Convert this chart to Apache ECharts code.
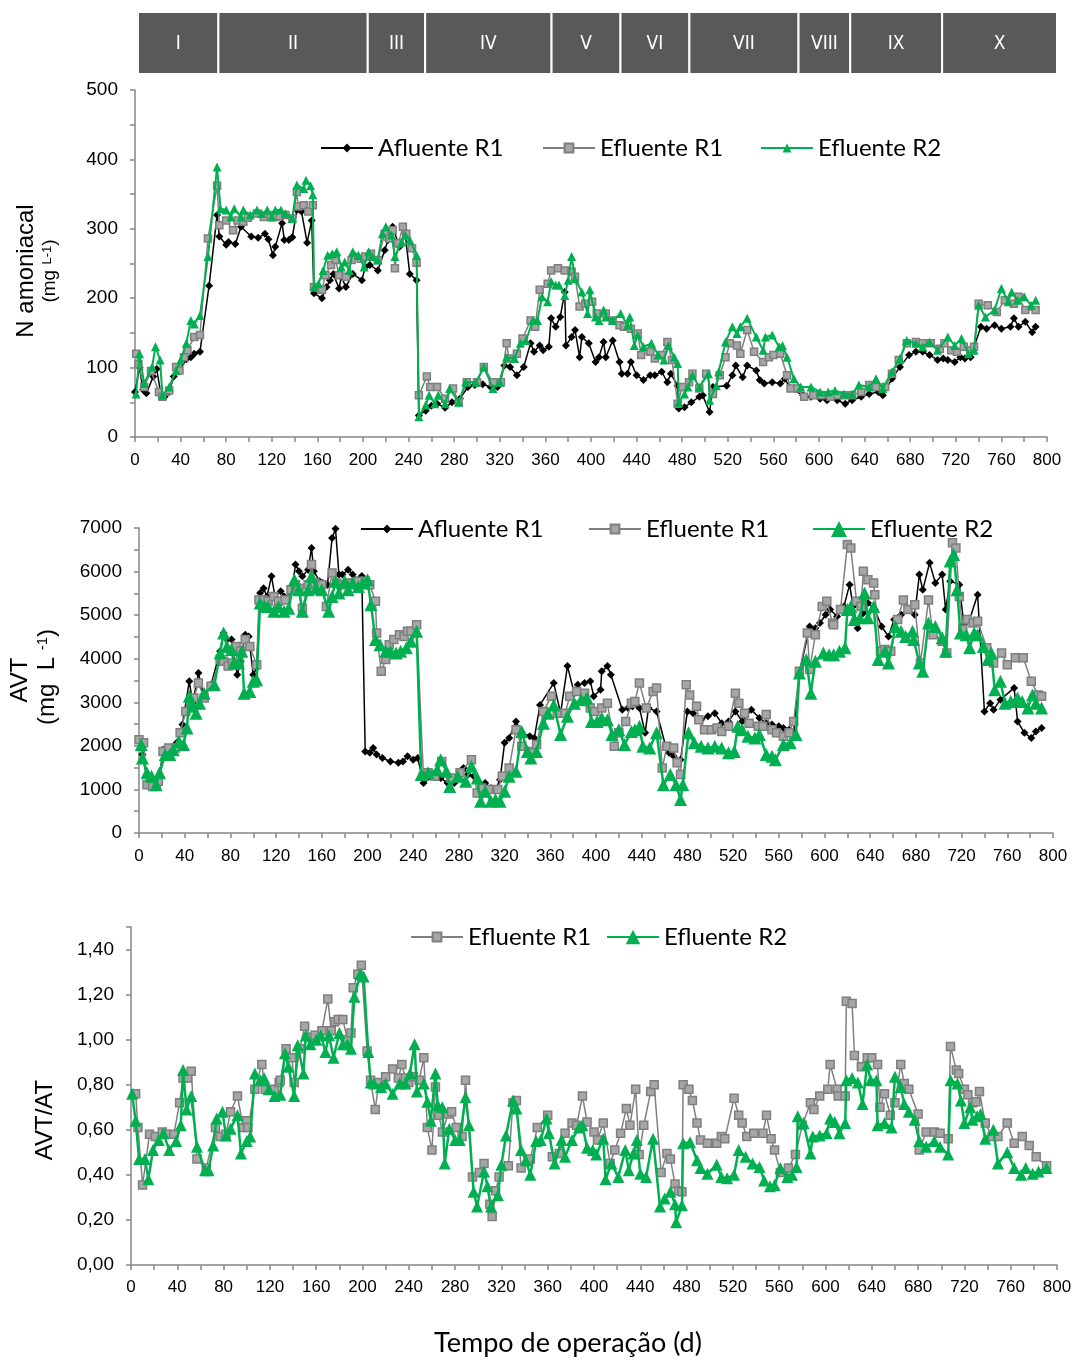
<!DOCTYPE html>
<html><head><meta charset="utf-8">
<script src="https://cdn.jsdelivr.net/npm/echarts@6/dist/echarts.min.js"></script>
<style>html,body{margin:0;padding:0;background:#fff}#c{width:1075px;height:1360px}</style>
</head><body><div id="c"></div>
<script>
// ---------- DATA ----------
const phaseBounds = [0,70,200,250,360,420,480,575,620,700,800];
const phaseLabels = ['I','II','III','IV','V','VI','VII','VIII','IX','X'];
const seriesNames = ['Afluente R1','Efluente R1','Efluente R2'];

// Panel 1: N amoniacal (mg/L), [day, value]
const nh4Afluente = [[0,65],[4,100],[7,68],[10,63],[16,87],[19,98],[23,59],[26,58],[30,65],[34,87],[39,96],[45,112],[49,115],[52,120],[57,123],[65,218],[72,320],[74,289],[80,277],[82,281],[88,278],[93,303],[102,289],[108,287],[114,293],[117,285],[121,262],[123,274],[129,308],[131,284],[135,284],[138,288],[142,327],[146,325],[151,280],[155,312],[157,207],[164,200],[168,216],[171,226],[174,235],[179,214],[181,231],[185,216],[191,235],[199,226],[202,245],[206,248],[213,240],[219,269],[222,284],[226,303],[232,274],[237,293],[241,235],[247,226],[249,31],[255,38],[260,45],[265,48],[272,42],[278,50],[285,55],[292,72],[298,75],[305,76],[312,72],[318,72],[324,103],[329,101],[335,89],[341,101],[347,135],[350,123],[355,132],[358,125],[363,130],[365,171],[369,159],[373,173],[377,209],[378,132],[383,144],[386,154],[390,115],[392,144],[398,135],[404,108],[407,115],[411,137],[413,115],[419,139],[425,108],[427,91],[432,91],[435,108],[440,89],[446,82],[452,89],[456,89],[462,94],[467,79],[470,91],[476,74],[477,41],[482,43],[488,50],[495,58],[498,60],[504,36],[507,72],[519,74],[524,89],[527,103],[533,86],[537,103],[545,96],[548,82],[552,77],[559,79],[566,77],[570,84],[575,70],[586,60],[593,58],[601,55],[607,53],[616,53],[623,48],[629,53],[637,58],[644,62],[652,65],[656,60],[664,84],[671,101],[679,118],[685,123],[691,123],[697,118],[704,111],[709,113],[713,111],[719,108],[724,115],[728,113],[733,115],[742,159],[747,156],[754,161],[760,156],[768,159],[771,171],[775,159],[781,166],[787,151],[790,159]];
const nh4EfluenteR1 = [[1,120],[3,105],[8,72],[14,95],[21,65],[24,58],[30,67],[36,101],[39,96],[43,115],[46,125],[52,144],[57,147],[64,286],[72,362],[74,305],[80,312],[86,298],[90,312],[95,310],[99,316],[107,322],[113,317],[119,320],[123,317],[127,318],[132,320],[138,315],[142,353],[143,332],[148,334],[152,325],[156,334],[157,216],[164,212],[167,233],[172,248],[176,255],[179,233],[185,231],[190,255],[198,257],[202,260],[207,264],[213,255],[219,293],[223,286],[226,298],[228,243],[231,279],[235,303],[238,293],[243,272],[247,251],[249,60],[256,87],[259,72],[265,72],[272,55],[279,70],[284,50],[291,79],[300,79],[306,101],[314,79],[321,79],[326,135],[328,113],[335,120],[340,142],[347,168],[351,159],[355,212],[362,221],[365,240],[371,243],[377,240],[383,238],[386,231],[390,188],[395,192],[401,195],[405,178],[413,178],[419,168],[425,161],[429,159],[435,156],[441,149],[444,118],[452,123],[456,113],[462,118],[467,137],[471,111],[476,48],[480,72],[486,79],[489,91],[495,70],[501,91],[507,62],[513,89],[518,115],[522,135],[528,132],[531,120],[537,154],[543,123],[551,108],[556,115],[560,118],[566,120],[572,89],[575,70],[581,70],[587,58],[595,60],[602,60],[610,58],[616,60],[622,60],[629,60],[637,65],[644,75],[650,72],[658,72],[664,91],[670,111],[677,135],[685,137],[691,135],[698,135],[706,127],[710,135],[716,125],[721,123],[727,130],[733,125],[736,130],[740,192],[748,190],[756,180],[763,197],[771,192],[775,202],[781,183],[790,183]];
const nh4EfluenteR2 = [[1,62],[4,120],[8,77],[15,101],[18,130],[22,111],[24,60],[30,72],[36,96],[40,111],[45,135],[49,168],[52,163],[57,175],[64,260],[72,389],[75,329],[80,327],[84,317],[87,329],[93,317],[95,327],[101,320],[107,327],[111,322],[116,327],[120,317],[123,327],[128,327],[132,322],[138,315],[142,363],[148,358],[150,370],[154,362],[156,349],[157,216],[161,221],[165,240],[169,262],[173,264],[177,267],[181,245],[184,252],[188,240],[191,267],[196,262],[201,245],[205,267],[208,260],[213,255],[217,293],[220,303],[225,291],[228,260],[234,281],[237,291],[241,284],[247,262],[249,29],[255,46],[258,60],[263,48],[266,60],[272,48],[276,70],[284,50],[290,79],[299,79],[306,101],[314,70],[320,79],[326,115],[333,113],[338,135],[343,139],[349,168],[353,168],[357,202],[362,195],[365,224],[369,219],[372,219],[377,204],[380,226],[383,260],[386,228],[392,209],[397,178],[399,212],[404,173],[407,168],[411,183],[413,173],[419,168],[426,178],[432,161],[434,173],[438,132],[441,147],[446,130],[453,135],[459,118],[464,111],[468,132],[473,115],[476,106],[477,50],[482,62],[485,72],[489,89],[495,72],[503,91],[504,53],[510,74],[512,94],[518,137],[524,159],[528,149],[531,159],[537,171],[545,144],[551,125],[553,144],[559,147],[565,130],[568,132],[572,115],[578,84],[584,72],[593,72],[601,65],[608,65],[614,67],[622,62],[629,62],[635,75],[644,72],[650,84],[656,70],[664,94],[671,113],[677,139],[685,135],[691,130],[697,137],[704,125],[713,144],[719,132],[725,142],[731,120],[736,125],[740,190],[746,173],[754,183],[760,214],[766,195],[769,209],[774,197],[780,202],[786,190],[790,197]];

// Panel 2: AVT (mg/L)
const avtAfluente = [[0,2140],[3,1800],[8,1110],[12,1150],[17,1110],[21,1910],[24,1950],[29,1950],[33,2070],[38,2490],[44,3480],[47,2980],[52,3670],[57,3100],[63,3400],[71,4170],[74,4590],[77,4440],[81,4440],[86,3630],[89,3940],[93,4550],[96,4510],[100,3630],[103,3790],[106,5510],[109,5620],[112,5430],[116,5890],[119,5430],[124,5550],[127,5430],[130,5390],[134,5620],[137,6160],[140,6010],[143,5890],[148,6040],[151,6540],[153,6010],[158,5780],[161,5740],[165,5700],[169,6770],[172,6980],[175,5930],[178,5930],[183,6040],[187,5930],[192,5810],[195,5900],[198,1870],[202,1840],[205,1950],[208,1800],[213,1720],[220,1640],[227,1610],[231,1640],[235,1760],[240,1680],[244,1720],[249,1150],[258,1300],[264,1260],[270,1150],[276,1150],[284,1490],[288,1340],[293,1300],[299,1110],[303,1150],[308,1030],[312,1000],[316,1220],[320,2070],[324,2180],[330,2560],[335,2300],[342,2220],[346,2180],[351,2940],[363,3440],[369,2750],[375,3830],[381,3210],[384,3400],[390,3440],[395,3480],[398,3140],[404,3290],[405,3710],[410,3830],[413,3630],[423,2830],[428,2870],[432,2910],[438,2870],[443,2300],[446,2870],[453,2790],[461,1990],[464,1840],[468,1760],[474,1680],[480,2790],[485,2750],[492,2600],[498,2680],[504,2750],[510,2520],[516,2560],[522,2790],[528,2560],[536,2830],[543,2640],[549,2520],[554,2490],[560,2450],[564,2410],[569,2370],[573,2300],[578,3670],[587,4740],[592,4700],[596,4820],[601,5010],[605,5130],[611,4970],[617,5200],[622,5700],[625,5200],[629,4700],[634,5050],[638,5280],[644,5130],[650,4740],[656,4510],[661,4900],[667,5010],[673,5160],[679,5010],[683,5930],[686,5580],[692,6200],[697,5740],[703,5930],[706,5130],[710,5780],[718,5700],[722,4780],[727,4900],[734,5470],[740,2790],[745,2980],[748,2830],[754,3060],[766,3330],[769,2560],[775,2300],[781,2180],[785,2330],[790,2410]];
const avtEfluenteR1 = [[0,2140],[4,2070],[7,1110],[12,1070],[17,1190],[21,1870],[26,1950],[32,1950],[36,2300],[41,2790],[45,2980],[48,3100],[52,3440],[57,3100],[63,3370],[71,3980],[74,3940],[78,3830],[82,3900],[85,4280],[89,4170],[93,4440],[97,4280],[103,3860],[105,5350],[109,5350],[113,5320],[118,5430],[122,5320],[128,5350],[133,5580],[137,5700],[140,5620],[143,5160],[148,5700],[151,6160],[154,5740],[160,5700],[164,5200],[169,5970],[173,5740],[178,5700],[183,5740],[187,5740],[192,5780],[198,5780],[202,5700],[207,5320],[208,4590],[212,3710],[216,3980],[219,4320],[223,4440],[228,4550],[232,4510],[235,4630],[238,4630],[243,4780],[249,1300],[253,1380],[259,1300],[265,1640],[273,1260],[281,1380],[291,1680],[296,920],[300,1030],[306,1000],[314,1000],[318,1300],[324,1490],[330,2370],[335,1990],[341,1870],[343,1840],[348,2030],[354,2790],[361,3140],[366,2750],[373,2750],[377,3140],[383,3250],[390,3210],[395,2870],[399,2790],[405,2870],[410,2980],[416,1990],[420,2300],[426,2560],[431,2980],[434,3020],[438,3440],[444,2870],[450,3250],[453,3330],[458,1490],[462,1990],[468,1950],[471,1610],[474,1340],[479,3400],[482,3170],[488,2910],[490,2600],[495,2370],[501,2370],[506,2410],[510,2330],[516,2450],[522,3210],[525,2980],[530,2750],[534,2520],[542,2450],[546,2450],[549,2720],[554,2370],[558,2300],[564,2220],[569,2300],[573,2560],[578,3710],[585,4590],[587,3750],[592,4550],[598,5200],[602,5320],[607,4820],[608,4780],[614,5130],[620,6620],[623,6540],[628,5320],[632,5200],[634,6010],[638,5810],[643,5740],[644,5470],[649,4170],[653,4210],[658,4170],[664,4900],[669,5350],[673,5130],[679,5240],[684,3900],[691,5350],[695,4550],[703,4400],[707,4130],[712,6660],[715,6540],[718,5430],[721,4670],[725,4900],[730,4820],[734,4860],[742,4250],[748,3900],[755,4130],[760,3860],[767,4020],[774,4020],[781,3480],[787,3170],[790,3140]];
const avtEfluenteR2 = [[2,2030],[3,1720],[7,1380],[11,1300],[15,1110],[18,1380],[23,1800],[27,1800],[30,1910],[35,2100],[39,2030],[42,2410],[44,3140],[47,2910],[50,2750],[53,2980],[57,3210],[66,3400],[71,4130],[74,4590],[77,4280],[81,4210],[83,3900],[87,3900],[90,4170],[92,3210],[97,3250],[100,3480],[103,3520],[106,5280],[110,5200],[113,5200],[118,5090],[122,5200],[127,5090],[131,5160],[136,5810],[140,5580],[143,5090],[148,5580],[151,5890],[155,5620],[160,5580],[166,5090],[169,5430],[172,5780],[175,5510],[180,5780],[183,5580],[187,5740],[192,5660],[196,5740],[200,5810],[203,5240],[207,4440],[211,4320],[216,4170],[220,4170],[225,4130],[229,4170],[234,4250],[238,4400],[243,4630],[247,1340],[253,1380],[261,1450],[264,1680],[269,1420],[272,1070],[279,1300],[286,1190],[291,1530],[296,1260],[299,730],[303,960],[308,730],[312,770],[316,730],[320,960],[324,1300],[330,1420],[335,2330],[340,1870],[343,1720],[348,1870],[354,2520],[358,2750],[363,2940],[369,2260],[375,2680],[381,2980],[387,3060],[392,3100],[396,2560],[401,2560],[405,2640],[410,2600],[414,2260],[420,2370],[425,2030],[431,2330],[434,2370],[438,2450],[441,1990],[447,1950],[453,2300],[459,1110],[465,1340],[470,1110],[474,770],[476,1110],[481,2300],[486,2070],[492,1990],[498,1950],[504,1990],[510,1950],[516,1840],[521,1870],[524,2450],[528,2370],[533,2220],[539,2180],[543,2260],[549,1800],[554,1760],[557,1680],[564,2030],[570,2070],[575,2260],[578,3670],[584,3980],[588,3210],[592,3940],[599,4130],[604,4090],[608,4090],[613,4170],[618,4250],[620,5130],[623,5200],[626,4900],[631,4940],[635,5510],[638,4940],[643,5200],[647,3980],[653,4170],[656,3900],[662,4740],[667,4630],[671,4510],[677,4630],[678,4440],[683,3900],[686,3710],[691,4820],[697,4740],[703,4480],[706,4170],[710,6240],[713,6390],[716,5580],[719,4590],[724,4550],[727,4250],[731,4590],[734,4550],[739,4280],[743,3980],[746,4130],[749,3290],[754,3480],[758,2980],[763,3020],[769,3100],[773,3020],[778,2870],[782,3170],[785,2980],[790,2870]];

// Panel 3: AVT/AT
const ratioEfluenteR1 = [[4,0.76],[6,0.61],[10,0.355],[16,0.58],[21,0.57],[27,0.59],[30,0.58],[37,0.58],[42,0.72],[45,0.83],[49,0.83],[52,0.86],[57,0.47],[65,0.43],[73,0.61],[77,0.57],[82,0.58],[86,0.68],[92,0.75],[97,0.61],[100,0.64],[101,0.61],[107,0.78],[113,0.89],[116,0.78],[124,0.78],[128,0.81],[129,0.82],[134,0.96],[139,0.92],[141,0.81],[146,0.96],[150,1.06],[156,1.01],[159,1.02],[165,1.04],[170,1.18],[173,1.04],[176,1.08],[179,1.09],[183,1.09],[187,1.0],[190,1.03],[192,1.23],[196,1.29],[199,1.33],[204,0.95],[207,0.82],[211,0.69],[214,0.81],[220,0.835],[226,0.87],[231,0.83],[234,0.89],[237,0.83],[240,0.81],[244,0.835],[249,0.82],[253,0.92],[256,0.61],[260,0.51],[263,0.79],[266,0.665],[269,0.59],[274,0.67],[277,0.68],[281,0.61],[286,0.57],[289,0.82],[295,0.39],[301,0.41],[305,0.45],[310,0.27],[312,0.215],[315,0.33],[318,0.39],[326,0.44],[330,0.72],[333,0.73],[337,0.43],[345,0.47],[351,0.61],[360,0.665],[364,0.48],[370,0.495],[375,0.585],[381,0.63],[385,0.62],[390,0.75],[394,0.635],[400,0.59],[403,0.555],[408,0.63],[414,0.45],[418,0.51],[423,0.585],[428,0.695],[431,0.62],[436,0.78],[439,0.49],[443,0.62],[449,0.77],[452,0.80],[458,0.41],[463,0.495],[466,0.47],[470,0.36],[473,0.33],[476,0.325],[477,0.80],[482,0.78],[485,0.73],[489,0.63],[492,0.555],[498,0.54],[506,0.54],[510,0.57],[513,0.56],[521,0.74],[525,0.665],[528,0.63],[532,0.57],[538,0.585],[546,0.585],[549,0.665],[553,0.56],[556,0.51],[561,0.41],[568,0.43],[574,0.49],[580,0.62],[587,0.72],[590,0.69],[595,0.75],[602,0.78],[604,0.89],[610,0.78],[611,0.75],[617,0.75],[618,1.17],[623,1.16],[625,0.93],[631,0.88],[636,0.92],[640,0.92],[645,0.89],[647,0.70],[651,0.76],[656,0.665],[660,0.72],[665,0.89],[668,0.805],[672,0.78],[680,0.67],[681,0.51],[687,0.59],[694,0.59],[699,0.585],[706,0.56],[708,0.97],[713,0.865],[715,0.85],[720,0.78],[723,0.755],[727,0.72],[730,0.725],[733,0.77],[738,0.63],[744,0.57],[749,0.57],[757,0.63],[763,0.54],[770,0.57],[776,0.53],[782,0.48],[791,0.44]];
const ratioEfluenteR2 = [[1,0.76],[4,0.64],[7,0.47],[12,0.47],[15,0.38],[19,0.51],[24,0.555],[28,0.585],[33,0.51],[39,0.55],[43,0.62],[45,0.865],[48,0.69],[52,0.75],[57,0.525],[64,0.42],[67,0.42],[71,0.53],[74,0.65],[79,0.68],[82,0.575],[86,0.605],[92,0.665],[95,0.495],[100,0.55],[103,0.57],[107,0.85],[112,0.82],[115,0.83],[119,0.78],[124,0.75],[129,0.755],[133,0.94],[136,0.88],[141,0.75],[144,0.975],[149,0.85],[151,1.02],[155,0.98],[160,1.0],[164,1.02],[168,0.945],[171,1.02],[175,0.92],[180,1.03],[183,0.98],[187,0.98],[190,0.96],[193,1.19],[198,1.29],[201,1.28],[205,0.945],[207,0.81],[210,0.805],[216,0.79],[220,0.805],[226,0.76],[232,0.805],[237,0.805],[241,0.85],[245,0.98],[247,0.77],[253,0.805],[256,0.725],[259,0.64],[263,0.85],[265,0.71],[269,0.70],[271,0.45],[275,0.605],[280,0.555],[284,0.555],[289,0.745],[292,0.62],[296,0.325],[299,0.26],[305,0.415],[308,0.35],[311,0.26],[317,0.31],[320,0.445],[324,0.575],[330,0.73],[333,0.695],[337,0.51],[341,0.465],[345,0.40],[350,0.55],[354,0.555],[359,0.65],[361,0.585],[366,0.45],[372,0.555],[375,0.48],[381,0.555],[387,0.61],[390,0.62],[394,0.52],[399,0.51],[402,0.49],[408,0.56],[410,0.38],[415,0.45],[421,0.39],[427,0.51],[430,0.42],[434,0.495],[437,0.555],[440,0.405],[445,0.39],[451,0.56],[457,0.26],[461,0.295],[466,0.325],[470,0.27],[471,0.19],[476,0.265],[477,0.54],[483,0.545],[489,0.465],[492,0.43],[498,0.405],[506,0.445],[510,0.39],[515,0.385],[521,0.40],[525,0.51],[531,0.48],[537,0.45],[543,0.435],[547,0.375],[552,0.35],[556,0.355],[561,0.43],[567,0.39],[571,0.40],[575,0.435],[576,0.66],[581,0.63],[587,0.495],[589,0.57],[595,0.575],[601,0.585],[604,0.65],[608,0.635],[612,0.585],[617,0.63],[618,0.82],[623,0.83],[628,0.81],[632,0.715],[636,0.89],[639,0.82],[644,0.82],[645,0.62],[651,0.63],[657,0.61],[660,0.835],[665,0.79],[668,0.715],[672,0.68],[677,0.645],[681,0.55],[687,0.525],[694,0.55],[699,0.525],[706,0.49],[708,0.82],[714,0.805],[717,0.73],[720,0.63],[725,0.70],[727,0.645],[731,0.66],[734,0.67],[738,0.56],[745,0.60],[749,0.45],[757,0.50],[763,0.43],[769,0.40],[773,0.43],[779,0.405],[784,0.415],[791,0.43]];

// ---------- CHART ----------
const AX = '#868686';
const TXT = '#000';
const TICKFONT = 'Liberation Sans';
const LEGFONT = 'Lato';

function xAxis(gi, margin){
  return {type:'value', gridIndex:gi, min:0, max:800, interval:40,
    axisLine:{show:true, onZero:false, lineStyle:{color:AX, width:1.5}},
    axisTick:{show:true, length:5, lineStyle:{color:AX, width:1.5}},
    minorTick:{show:true, splitNumber:2, length:5, lineStyle:{color:AX, width:1.5}},
    splitLine:{show:false}, minorSplitLine:{show:false},
    axisLabel:{margin:margin, fontSize:17, fontFamily:TICKFONT, color:TXT}};
}
function yAxis(gi, max, interval, minor, fmt){
  return {type:'value', gridIndex:gi, min:0, max:max, interval:interval,
    axisLine:{show:true, lineStyle:{color:AX, width:1.5}},
    axisTick:{show:true, length:5, lineStyle:{color:AX, width:1.5}},
    minorTick:{show:minor, splitNumber:2, length:5, lineStyle:{color:AX, width:1.5}},
    splitLine:{show:false}, minorSplitLine:{show:false},
    axisLabel:{margin:17, fontSize:19, fontFamily:TICKFONT, color:TXT, formatter:fmt}};
}

function blackSeries(name, gi, data){
  return {name:name, type:'line', xAxisIndex:gi, yAxisIndex:gi, data:data, symbol:'diamond', symbolSize:8,
    showAllSymbol:true, lineStyle:{color:'#000', width:1.5}, itemStyle:{color:'#000'}, z:2};
}
function graySeries(name, gi, data, size){
  return {name:name, type:'line', xAxisIndex:gi, yAxisIndex:gi, data:data, symbol:'rect', symbolSize:size,
    showAllSymbol:true, lineStyle:{color:'#7f7f7f', width:1.5}, itemStyle:{color:'#a6a6a6', borderColor:'#7f7f7f', borderWidth:1.5}, z:3};
}
function greenSeries(name, gi, data, size, lw){
  return {name:name, type:'line', xAxisIndex:gi, yAxisIndex:gi, data:data, symbol:'triangle', symbolSize:size,
    showAllSymbol:true, lineStyle:{color:'#00b050', width:lw}, itemStyle:{color:'#00b050'}, z:4};
}
function legend(name, left, cy, ih){
  return {data:[name], left:left, top:cy-13, padding:0, itemWidth:52, itemHeight:ih, itemGap:0,
    formatter:(n)=>n.split('|')[0], selectedMode:false,
    textStyle:{fontFamily:LEGFONT, fontSize:24, color:TXT}};
}

const phases = phaseBounds.slice(0,-1).map((s,i)=>[s, phaseBounds[i+1], i]);

const option = {
  animation:false,
  backgroundColor:'#fff',
  grid:[
    {left:138, right:18, top:12, height:62},
    {left:135, right:28, top:90, height:347},
    {left:139, right:22, top:528, height:305},
    {left:131, right:18, top:927, height:338}
  ],
  xAxis:[
    {type:'value', gridIndex:0, min:0, max:800, show:false},
    xAxis(1, 15), xAxis(2, 15), xAxis(3, 14)
  ],
  yAxis:[
    {type:'value', gridIndex:0, min:0, max:1, show:false},
    yAxis(1, 500, 100, true, v=>String(v)),
    yAxis(2, 7000, 1000, true, v=>String(v)),
    yAxis(3, 1.5, 0.2, false, v=> v>1.45 ? '' : v.toFixed(2).replace('.', ','))
  ],
  legend:[
    legend(seriesNames[0]+'|1', 320, 149, 11),
    legend(seriesNames[1]+'|1', 542, 149, 11),
    legend(seriesNames[2]+'|1', 760, 149, 11),
    legend(seriesNames[0]+'|2', 360, 530, 11),
    legend(seriesNames[1]+'|2', 588, 530, 11),
    legend(seriesNames[2]+'|2', 812, 530, 20),
    legend(seriesNames[1]+'|3', 410, 938, 11),
    legend(seriesNames[2]+'|3', 606, 938, 18)
  ],
  graphic:[
    {type:'text', x:26, y:271, rotation:Math.PI/2, style:{text:'N amoniacal', fontSize:24, fontFamily:'Liberation Sans', fill:TXT, align:'center', verticalAlign:'middle'}},
    {type:'text', x:50, y:271, rotation:Math.PI/2, style:{text:'(mg {s|L-1})', fontSize:19, fontFamily:'Liberation Sans', fill:TXT, align:'center', verticalAlign:'middle', rich:{s:{fontSize:13, fontFamily:'Liberation Sans', fill:TXT, verticalAlign:'top'}}}},
    {type:'text', x:20, y:680, rotation:Math.PI/2, style:{text:'AVT', fontSize:24, fontFamily:'Liberation Sans', fill:TXT, align:'center', verticalAlign:'middle'}},
    {type:'text', x:47, y:677, rotation:Math.PI/2, style:{text:'(mg  L {s|-1})', fontSize:24, fontFamily:'Liberation Sans', fill:TXT, align:'center', verticalAlign:'middle', rich:{s:{fontSize:15, fontFamily:'Liberation Sans', fill:TXT, verticalAlign:'top'}}}},
    {type:'text', x:45, y:1120, rotation:Math.PI/2, style:{text:'AVT/AT', fontSize:24, fontFamily:'Liberation Sans', fill:TXT, align:'center', verticalAlign:'middle'}},
    {type:'text', x:568, y:1343, style:{text:'Tempo de operação (d)', fontSize:27, fontFamily:LEGFONT, fill:TXT, align:'center', verticalAlign:'middle'}}
  ],
  series:[
    {type:'custom', xAxisIndex:0, yAxisIndex:0, data:phases, silent:true,
      renderItem:function(params, api){
        const s = api.value(0), e = api.value(1);
        const p0 = api.coord([s, 1]), p1 = api.coord([e, 0]);
        return {type:'group', children:[
          {type:'rect', shape:{x:p0[0], y:p0[1], width:p1[0]-p0[0], height:p1[1]-p0[1]}, style:{fill:'#595959', stroke:'#ffffff', lineWidth:2}},
          {type:'text', style:{text:phaseLabels[params.dataIndex], x:(p0[0]+p1[0])/2, y:(p0[1]+p1[1])/2+1, align:'center', verticalAlign:'middle', fill:'#ffffff', fontSize:19, fontFamily:'"Liberation Sans Narrow", "DejaVu Sans Condensed", sans-serif'}}
        ]};
      }},
    blackSeries(seriesNames[0]+'|1', 1, nh4Afluente),
    graySeries(seriesNames[1]+'|1', 1, nh4EfluenteR1, 7),
    greenSeries(seriesNames[2]+'|1', 1, nh4EfluenteR2, 9, 2),
    blackSeries(seriesNames[0]+'|2', 2, avtAfluente),
    graySeries(seriesNames[1]+'|2', 2, avtEfluenteR1, 8),
    greenSeries(seriesNames[2]+'|2', 2, avtEfluenteR2, 13, 2.5),
    graySeries(seriesNames[1]+'|3', 3, ratioEfluenteR1, 8),
    greenSeries(seriesNames[2]+'|3', 3, ratioEfluenteR2, 12, 2.5)
  ]
};
const chart = echarts.init(document.getElementById('c'), null, {renderer:'canvas'});
chart.setOption(option);
</script>
</body></html>
